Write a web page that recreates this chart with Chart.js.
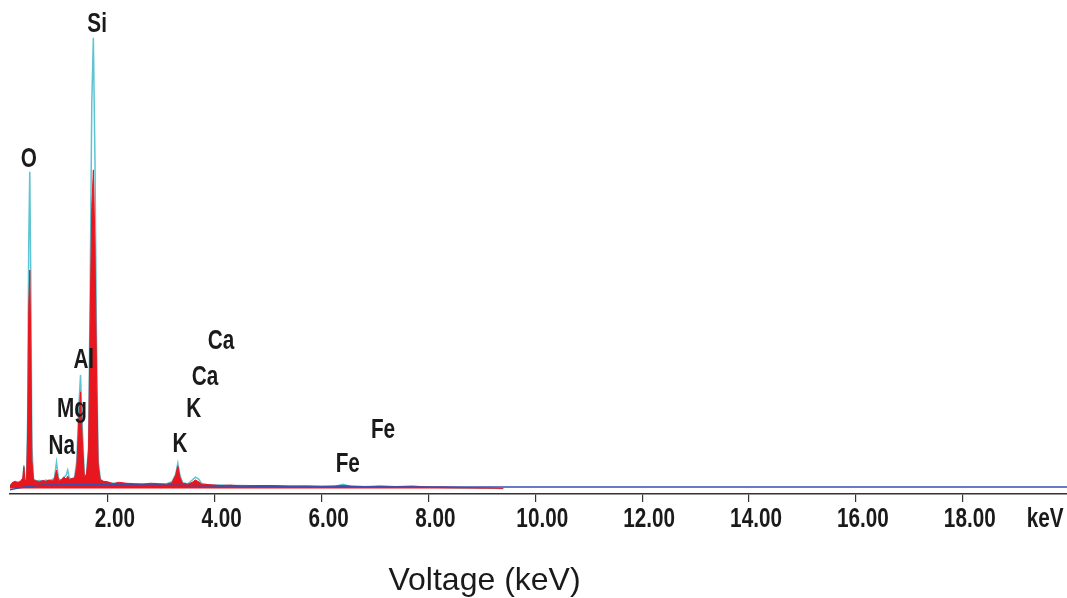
<!DOCTYPE html>
<html>
<head>
<meta charset="utf-8">
<title>EDS spectrum</title>
<script src="https://cdn.jsdelivr.net/npm/chart.js@4"></script>
<style>
  body { margin: 0; background: #fff; }
  #wrap { width: 1067px; height: 598px; position: relative; }
</style>
</head>
<body>
<div id="wrap"><canvas id="spectrum"></canvas></div>
<script>
    // energy channels (keV) and counts for the two overlaid spectra
    const energy = [0.17, 0.22, 0.27, 0.32, 0.37, 0.41, 0.43, 0.45, 0.48, 0.50, 0.52, 0.54, 0.56, 0.58,
      0.61, 0.66, 0.72, 0.78, 0.84, 0.90, 0.96, 1.00, 1.04, 1.08, 1.13, 1.18, 1.22, 1.25, 1.28,
      1.33, 1.38, 1.42, 1.46, 1.49, 1.52, 1.56, 1.60, 1.64, 1.67, 1.70, 1.73, 1.76, 1.79, 1.82,
      1.86, 1.92, 2.00, 2.10, 2.20, 2.35, 2.50, 2.65, 2.80, 2.95, 3.10, 3.20, 3.27, 3.31, 3.35,
      3.40, 3.50, 3.58, 3.64, 3.70, 3.76, 3.90, 4.10, 4.30, 4.50, 4.80, 5.10, 5.40, 5.70, 6.00,
      6.25, 6.40, 6.55, 6.80, 7.10, 7.40, 7.70, 8.00, 8.30, 8.60, 9.00, 9.40];

    const outlineCounts = [6, 12, 10, 14, 12, 18, 50, 16, 22, 150, 520, 676, 430, 90,
      20, 16, 17, 15, 18, 16, 19, 22, 56, 20, 18, 24, 28, 39, 22,
      20, 24, 60, 180, 242, 140, 30, 26, 90, 420, 820, 962, 700, 300, 60,
      20, 14, 12, 11, 10, 10, 9, 10, 9, 9, 10, 14, 30, 54, 28,
      12, 10, 18, 24, 20, 10, 7, 7, 6, 6, 5, 5, 5, 4, 4,
      4, 9, 4, 3, 4, 3, 3, 3, 2, 1, 1, 0];

    const filledCounts = [5, 13, 15, 12, 16, 22, 46, 15, 20, 120, 380, 466, 300, 60,
      18, 16, 14, 17, 15, 18, 16, 20, 39, 17, 18, 24, 20, 26, 19,
      21, 22, 48, 150, 206, 110, 26, 28, 80, 360, 600, 680, 520, 240, 50,
      18, 15, 14, 10, 13, 11, 10, 9, 11, 10, 9, 12, 28, 48, 24,
      11, 9, 13, 18, 14, 9, 8, 6, 7, 5, 6, 6, 4, 5, 4,
      5, 6, 5, 4, 5, 4, 5, 3, 3, 2, 1, 0];

    // fitted background
    const bgEnergy = [0.17, 0.30, 0.50, 0.80, 1.50, 2.00, 3.00, 4.00, 6.00, 8.00, 19.95];
    const bgCounts = [-3, 0, 4, 7, 8, 8, 7, 5, 4, 3, 3];

    const xTicks = [2, 4, 6, 8, 10, 12, 14, 16, 18];

    // element markers: name, keV, count
    const peakNames = ['Si', 'O', 'Al', 'Mg', 'Na', 'K', 'K', 'Ca', 'Ca', 'Fe', 'Fe'];
    const peakKeV = [1.80, 0.52, 1.55, 1.33, 1.14, 3.35, 3.61, 3.82, 4.12, 6.49, 7.15];
    const peakCount = [990, 702, 274, 168, 90, 95, 168, 238, 315, 52, 125];

    const narrowFont = 'bold 28px "Liberation Sans", Arial, sans-serif';

    const toPoints = (xs, ys) => xs.map((x, i) => ({ x: x, y: ys[i] }));

    // condensed text: squeeze a regular face horizontally
    function narrowText(ctx, text, x, y) {
      ctx.save();
      ctx.translate(x, y);
      ctx.scale(0.74, 1);
      ctx.fillText(text, 0, 0);
      ctx.restore();
    }

    const markerPlugin = {
      id: 'markers',
      afterDraw(chart) {
        const ctx = chart.ctx;
        const xs = chart.scales.x;
        const ys = chart.scales.y;
        ctx.save();
        ctx.fillStyle = '#1a1a1a';
        ctx.font = narrowFont;
        ctx.textAlign = 'center';
        ctx.textBaseline = 'middle';
        for (let i = 0; i < peakNames.length; i++) {
          narrowText(ctx, peakNames[i], xs.getPixelForValue(peakKeV[i]), ys.getPixelForValue(peakCount[i]));
        }
        // tick labels, sitting a little right of their tick marks
        const labelY = xs.top + 25;
        xTicks.forEach(v => {
          narrowText(ctx, v.toFixed(2), xs.getPixelForValue(v) + 7, labelY);
        });
        narrowText(ctx, 'keV', xs.getPixelForValue(19.54), labelY);
        // axis title
        ctx.font = '32px "Liberation Sans", Arial, sans-serif';
        ctx.fillText('Voltage (keV)', xs.getPixelForValue(9.05), chart.height - 17);
        ctx.restore();
      }
    };

    new Chart(document.getElementById('spectrum'), {
      type: 'scatter',
      data: {
        datasets: [
          {
            label: 'background',
            data: toPoints(bgEnergy, bgCounts),
            showLine: true,
            borderColor: '#3a4fb0',
            borderWidth: 1.5,
            pointRadius: 0,
            fill: false,
            order: 0
          },
          {
            label: 'spectrum',
            data: toPoints(energy, filledCounts),
            showLine: true,
            borderColor: '#e8161e',
            borderWidth: 1,
            backgroundColor: '#e8161e',
            pointRadius: 0,
            fill: 'origin',
            order: 1
          },
          {
            label: 'outline',
            data: toPoints(energy, outlineCounts),
            showLine: true,
            borderColor: '#5ec3d2',
            borderWidth: 1.5,
            pointRadius: 0,
            fill: false,
            order: 2
          }
        ]
      },
      options: {
        responsive: true,
        maintainAspectRatio: false,
        animation: false,
        layout: { padding: { left: 10, right: 0, top: 20, bottom: 0 } },
        plugins: {
          legend: { display: false },
          tooltip: { enabled: false }
        },
        scales: {
          x: {
            type: 'linear',
            min: 0.17,
            max: 19.95,
            afterBuildTicks: (scale) => {
              scale.ticks = xTicks.map(v => ({ value: v }));
            },
            afterFit: (scale) => {
              scale.height = 104;
            },
            border: { color: '#333', width: 1.5 },
            grid: {
              drawOnChartArea: false,
              drawTicks: true,
              tickLength: 8,
              color: '#333',
              lineWidth: 1.2
            },
            ticks: { display: false }
          },
          y: {
            display: false,
            min: -12,
            max: 1000
          }
        }
      },
      plugins: [markerPlugin]
    });
</script>
</body>
</html>
